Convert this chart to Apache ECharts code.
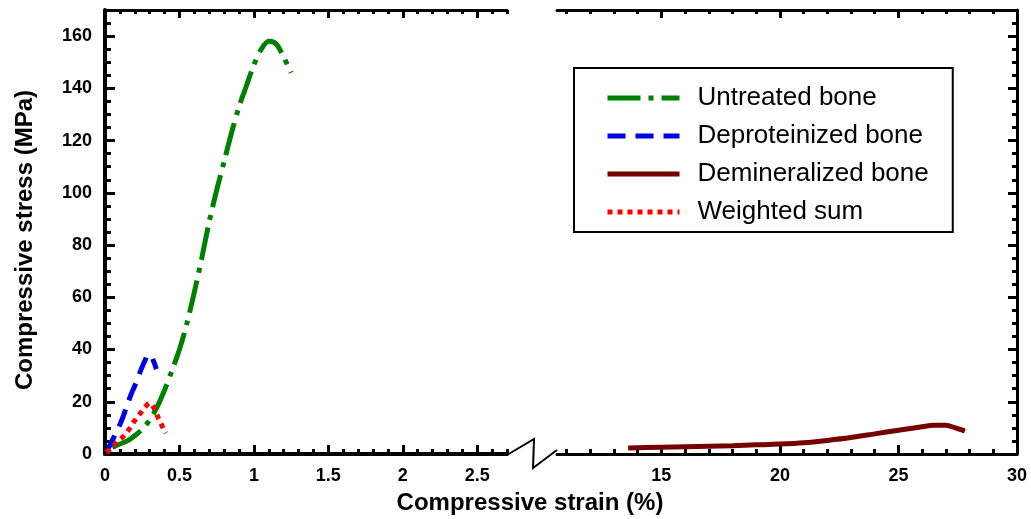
<!DOCTYPE html>
<html>
<head>
<meta charset="utf-8">
<script src="https://cdn.jsdelivr.net/npm/echarts@6/dist/echarts.min.js"></script>
<style>
  html, body { margin: 0; background: #fff; }
  #chart { width: 1031px; height: 519px; }
</style>
</head>
<body>
<div id="chart"></div>
<script>
// series names
const names = ['Untreated bone', 'Deproteinized bone', 'Demineralized bone', 'Weighted sum']

// strain (%) / stress (MPa)
const untreatedX = [0.05, 0.1, 0.15, 0.2, 0.25, 0.3, 0.35, 0.4, 0.45, 0.5, 0.55, 0.6, 0.65, 0.7, 0.75, 0.8, 0.85, 0.9, 0.95, 1.0, 1.05, 1.1, 1.15, 1.2, 1.25]
const untreatedY = [2.5, 3.8, 5, 7, 9.5, 13, 18, 24.5, 32, 40, 50, 62, 75, 89, 101, 112, 123, 133, 141, 149, 155, 158, 157, 152, 146]

const deprotX = [0.01, 0.03, 0.06, 0.09, 0.12, 0.15, 0.18, 0.21, 0.24, 0.27, 0.29, 0.31, 0.33, 0.345]
const deprotY = [1, 3, 6.5, 10, 14, 19, 23.5, 27.5, 32, 36, 38, 37.5, 35, 32.5]

const weightedX = [0.01, 0.03, 0.05, 0.08, 0.11, 0.15, 0.19, 0.23, 0.27, 0.3, 0.33, 0.36, 0.39, 0.41]
const weightedY = [0.5, 1.5, 2.5, 4.5, 6, 8.5, 12, 15, 18, 19.5, 17.5, 13.5, 10, 8]

const demX = [13.6, 15, 16, 17, 18, 19, 20, 21, 22, 23, 24, 25, 26, 26.5, 27, 27.4, 27.8]
const demY = [2.3, 2.6, 2.8, 3, 3.2, 3.5, 3.8, 4.3, 5.2, 6.3, 7.7, 9.1, 10.4, 11, 11, 10, 8.8]

// tick labels
const leftTicks = [0, 0.5, 1, 1.5, 2, 2.5]
const rightTicks = [15, 20, 25, 30]
const stressTicks = [0, 20, 40, 60, 80, 100, 120, 140, 160]

const font = 'Liberation Sans, Arial, sans-serif'

// minor ticks from min to max by step, majors left out
const minorTicks = (min, max, step, majors) => {
  const out = []
  for (let v = min; v <= max + 1e-9; v += step) {
    const r = Math.round(v * 100) / 100
    if (!majors.some(m => Math.abs(m - r) < 1e-6)) out.push(r)
  }
  return out
}

const zip = (xs, ys) => xs.map((x, i) => [x, ys[i]])

// one axis: line width 0 hides the line, labels only on the main ones
const axis = (opts, ticks, len, lineW, labels) => ({
  type: 'value',
  ...opts,
  axisLine: { show: lineW > 0, onZero: false, lineStyle: { color: '#000', width: lineW } },
  axisTick: { show: true, inside: true, length: len, customValues: ticks, lineStyle: { color: '#000', width: 3 } },
  axisLabel: labels
    ? { show: true, customValues: ticks, margin: 13, color: '#000', fontFamily: font, fontWeight: 'bold', fontSize: 18 }
    : { show: false },
  splitLine: { show: false },
})

const leftMinor = minorTicks(0.1, 2.7, 0.1, leftTicks)
const rightMinor = minorTicks(11, 30, 1, rightTicks)
const stressMinor = minorTicks(5, 170, 5, stressTicks)

const L = { gridIndex: 0, min: 0, max: 2.7 }
const R = { gridIndex: 1, min: 10.6, max: 30 }
const YL = { gridIndex: 0, min: 0, max: 170 }
const YR = { gridIndex: 1, min: 0, max: 170 }

const line = (name, data, color, type, xi, yi) => ({
  name,
  type: 'line',
  xAxisIndex: xi,
  yAxisIndex: yi,
  data,
  smooth: 0.3,
  symbol: 'none',
  lineStyle: { color, width: 5, type, cap: 'butt' },
  itemStyle: { color },
  z: 3,
})

const chart = echarts.init(document.getElementById('chart'))
chart.setOption({
  backgroundColor: '#fff',
  animation: false,
  grid: [
    { left: 105, right: 524, top: 10, bottom: 65 },
    { left: 557, right: 14, top: 10, bottom: 65 },
  ],
  xAxis: [
    axis({ ...L, position: 'bottom' }, leftTicks, 9, 4, true),
    axis({ ...L, position: 'bottom' }, leftMinor, 5, 0, false),
    axis({ ...L, position: 'top' }, leftTicks, 8, 3, false),
    axis({ ...L, position: 'top' }, leftMinor, 4, 0, false),
    axis({ ...R, position: 'bottom' }, rightTicks, 9, 3, true),
    axis({ ...R, position: 'bottom' }, rightMinor, 5, 0, false),
    axis({ ...R, position: 'top' }, rightTicks, 8, 3, false),
    axis({ ...R, position: 'top' }, rightMinor, 4, 0, false),
  ],
  yAxis: [
    axis({ ...YL, position: 'left' }, stressTicks, 10, 4, true),
    axis({ ...YL, position: 'left' }, stressMinor, 6, 0, false),
    axis({ ...YR, position: 'right' }, stressTicks, 9, 3, false),
    axis({ ...YR, position: 'right' }, stressMinor, 5, 0, false),
  ],
  legend: {
    orient: 'vertical',
    left: 574,
    top: 68,
    padding: [17, 24, 7, 31],
    borderColor: '#000',
    borderWidth: 2,
    itemWidth: 72,
    itemHeight: 14,
    itemGap: 12,
    itemStyle: { opacity: 0 },
    lineStyle: { width: 'inherit' },
    textStyle: { fontFamily: font, fontSize: 26, color: '#000', padding: [0, 0, 0, 13] },
    data: names,
  },
  graphic: [
    {
      type: 'polyline',
      shape: { points: [[507, 455], [534, 439], [533, 468], [557, 450]] },
      style: { stroke: '#000', lineWidth: 2, fill: null },
    },
    {
      type: 'text',
      x: 530,
      y: 503,
      style: { text: 'Compressive strain (%)', font: 'bold 24px ' + font, fill: '#000', align: 'center', verticalAlign: 'middle' },
    },
    {
      type: 'text',
      x: 25,
      y: 240,
      rotation: Math.PI / 2,
      style: { text: 'Compressive stress (MPa)', font: 'bold 24px ' + font, fill: '#000', align: 'center', verticalAlign: 'middle' },
    },
  ],
  series: [
    line(names[0], zip(untreatedX, untreatedY), '#008000', [33, 8, 5, 8], 0, 0),
    line(names[1], zip(deprotX, deprotY), '#0000e0', [18, 10], 0, 0),
    line(names[2], zip(demX, demY), '#760000', 'solid', 4, 2),
    line(names[3], zip(weightedX, weightedY), '#ff0000', [5, 5], 0, 0),
  ],
})
</script>
</body>
</html>
